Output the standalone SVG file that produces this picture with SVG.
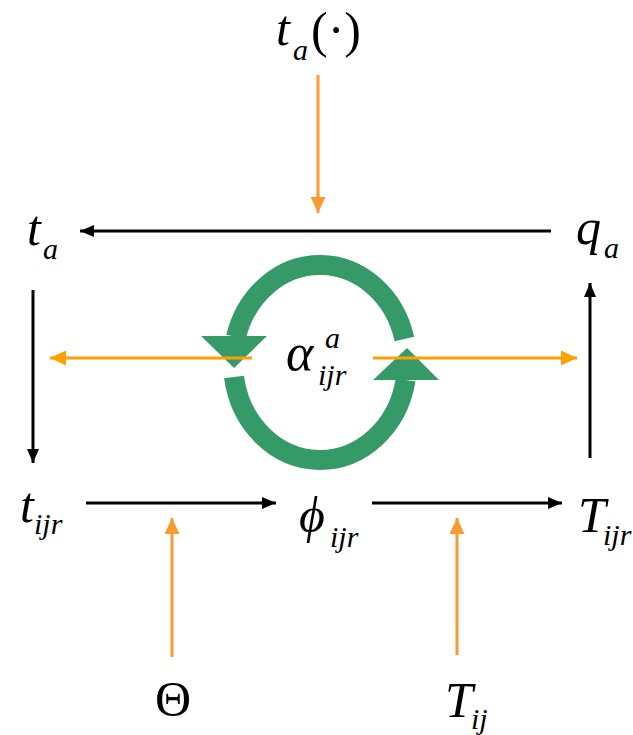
<svg xmlns="http://www.w3.org/2000/svg" width="633" height="735" viewBox="0 0 633 735" font-family="Liberation Serif">
<style>
.bk{stroke:#000;stroke-width:3;fill:none}
.ov{stroke:#F89B32;stroke-width:3;fill:none}
.oh{stroke:#FFA000;stroke-width:3;fill:none}
.g{stroke:#369A68;stroke-width:20;fill:none}
</style>
<defs>
<marker id="ab" markerUnits="userSpaceOnUse" markerWidth="14" markerHeight="12" refX="14" refY="6" orient="auto"><path d="M0,0 L14,6 L0,12 z" fill="#000"/></marker>
<marker id="aov" markerUnits="userSpaceOnUse" markerWidth="16" markerHeight="15" refX="16" refY="7.5" orient="auto"><path d="M0,0 L16,7.5 L0,15 z" fill="#F89B32"/></marker>
<marker id="aoh" markerUnits="userSpaceOnUse" markerWidth="16" markerHeight="15" refX="16" refY="7.5" orient="auto"><path d="M0,0 L16,7.5 L0,15 z" fill="#FFA000"/></marker>
</defs>
<g id="cycle">
<path class="g" d="M404.4,339 A87,97.5 0 0 0 236,337"/>
<polygon points="201,336 267,336 234,368" fill="#369A68"/>
<path class="g" d="M234,377 A87,97.5 0 0 0 405.6,380"/>
<polygon points="373,380 439,380 407,348" fill="#369A68"/>
</g>
<g id="connectors">
<line class="bk" x1="551" y1="231" x2="80" y2="231" marker-end="url(#ab)"/>
<line class="bk" x1="33" y1="290" x2="33" y2="463" marker-end="url(#ab)"/>
<line class="bk" x1="590" y1="458" x2="590" y2="283" marker-end="url(#ab)"/>
<line class="bk" x1="86" y1="503" x2="276" y2="503" marker-end="url(#ab)"/>
<line class="bk" x1="372" y1="503" x2="562" y2="503" marker-end="url(#ab)"/>
<line class="ov" x1="318" y1="75" x2="318" y2="213" marker-end="url(#aov)"/>
<line class="oh" x1="252" y1="358" x2="50" y2="358" marker-end="url(#aoh)"/>
<line class="oh" x1="373" y1="358" x2="577" y2="358" marker-end="url(#aoh)"/>
<line class="ov" x1="172" y1="657" x2="172" y2="518" marker-end="url(#aov)"/>
<line class="ov" x1="457" y1="655" x2="457" y2="518" marker-end="url(#aov)"/>
</g>
<g id="n-ta-func"><text x="276" y="45" font-family="Liberation Serif" font-style="italic" font-size="50">t</text><text x="293" y="60" font-family="Liberation Serif" font-style="italic" font-size="30">a</text><text x="311" y="47" font-family="Liberation Serif" font-size="50">(·)</text></g>
<g id="n-ta"><text x="27" y="245" font-family="Liberation Serif" font-style="italic" font-size="50">t</text><text x="43" y="259" font-family="Liberation Serif" font-style="italic" font-size="30">a</text></g>
<g id="n-qa"><text x="576" y="244" font-family="Liberation Serif" font-style="italic" font-size="50">q</text><text x="604" y="258" font-family="Liberation Serif" font-style="italic" font-size="30">a</text></g>
<g id="n-alpha"><text x="286" y="370" font-family="Liberation Serif" font-style="italic" font-size="52">α</text><text x="325" y="348" font-family="Liberation Serif" font-style="italic" font-size="30">a</text><text x="318" y="385" font-family="Liberation Serif" font-style="italic" font-size="30">ijr</text></g>
<g id="n-tijr"><text x="20" y="522" font-family="Liberation Serif" font-style="italic" font-size="50">t</text><text x="34" y="534" font-family="Liberation Serif" font-style="italic" font-size="30">ijr</text></g>
<g id="n-phi"><text x="299" y="532" font-family="Liberation Serif" font-style="italic" font-size="50">ϕ</text><text x="330" y="547" font-family="Liberation Serif" font-style="italic" font-size="30">ijr</text></g>
<g id="n-Tijr"><text x="578" y="532" font-family="Liberation Serif" font-style="italic" font-size="50">T</text><text x="603" y="545" font-family="Liberation Serif" font-style="italic" font-size="30">ijr</text></g>
<g id="n-theta"><text x="155" y="716" font-family="Liberation Serif" font-size="50">Θ</text></g>
<g id="n-Tij"><text x="445" y="717" font-family="Liberation Serif" font-style="italic" font-size="50">T</text><text x="471" y="729" font-family="Liberation Serif" font-style="italic" font-size="30">ij</text></g>
</svg>
